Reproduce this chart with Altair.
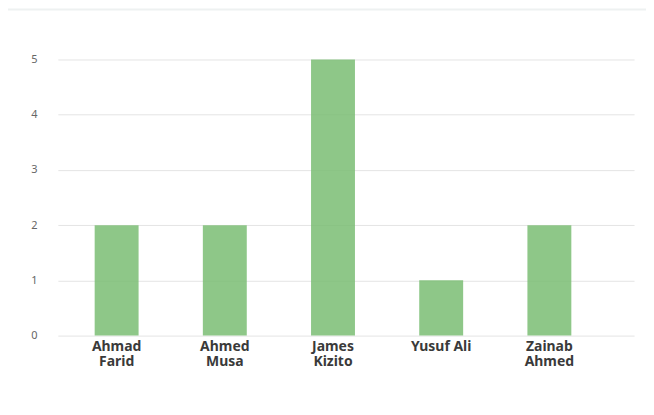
import altair as alt
import pandas as pd

names = ["Ahmad Farid", "Ahmed Musa", "James Kizito", "Yusuf Ali", "Zainab Ahmed"]
counts = [2, 2, 5, 1, 2]

df = pd.DataFrame({"name": names, "count": counts})
card = pd.DataFrame({"k": [0]})

W, H = 578, 277

strip = alt.Chart(card).mark_rect(color="#eef1f1").encode(
    x=alt.value(-50), x2=alt.value(W + 12),
    y=alt.value(-51), y2=alt.value(-49),
)

bars = alt.Chart(df).mark_bar(color="#7abd73", opacity=0.85).encode(
    x=alt.X("name:N", sort=None, title=None,
            scale=alt.Scale(paddingInner=0.594, paddingOuter=0.46, align=0.37),
            axis=alt.Axis(labelAngle=0, domain=False, ticks=False, labelPadding=4,
                          labelFont="Noto Sans", labelFontWeight="bold", labelFontSize=14,
                          labelColor="#3a3a3a", labelLineHeight=15,
                          labelExpr="indexof(datum.label, 'Yusuf') >= 0 ? datum.label : split(datum.label, ' ')")),
    y=alt.Y("count:Q", title=None,
            scale=alt.Scale(domain=[0, 5], nice=False),
            axis=alt.Axis(values=[0, 1, 2, 3, 4, 5], domain=False, ticks=False, labelPadding=21,
                          labelFont="Noto Sans", labelFontSize=11, labelColor="#666666",
                          gridColor="#e4e4e4", gridWidth=1)),
)

chart = alt.layer(strip, bars).properties(
    width=W, height=H,
    autosize=alt.AutoSizeParams(type="none"),
    padding={"left": 50, "top": 51, "right": 12, "bottom": 70},
    background="white",
).configure_view(stroke=None)

chart.save("out.html", embed_options={"renderer": "svg", "actions": False})
